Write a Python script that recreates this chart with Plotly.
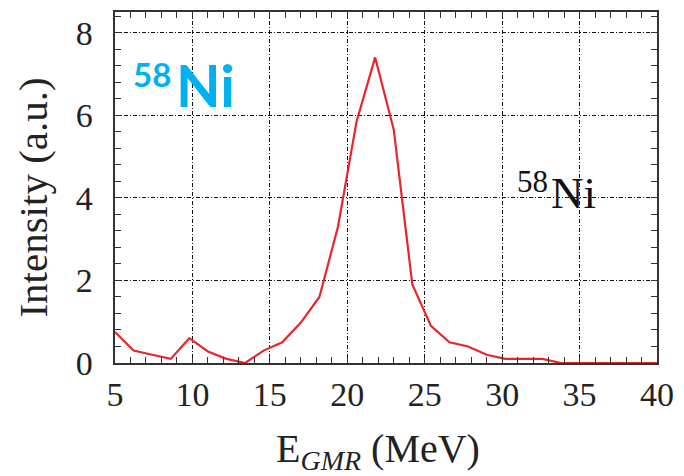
import plotly.graph_objects as go

energy = [5.0, 6.2, 7.4, 8.6, 9.8, 11.0, 12.2, 13.4, 14.6, 15.8, 17.0, 18.2, 19.4,
          20.6, 21.8, 23.0, 24.2, 25.4, 26.6, 27.8, 29.0, 30.2, 31.4, 32.6, 33.8,
          35.0, 36.2, 37.4, 38.6, 40.0]
intensity = [0.75, 0.3, 0.2, 0.1, 0.6, 0.28, 0.1, 0.0, 0.3, 0.5, 0.98, 1.6, 3.3,
             5.85, 7.4, 5.65, 1.9, 0.9, 0.5, 0.4, 0.2, 0.1, 0.1, 0.1, 0.0,
             0.0, 0.0, 0.0, 0.0, 0.0]
x_tick_start, x_tick_step, x_minor_step = 5, 5, 1
y_tick_start, y_tick_step, y_minor_step = 0, 2, 0.4
x_range = [5, 40]
y_range = [0, 8.5]

W, H = 684, 476
L, R, T, B = 115, 21, 10, 112.5
pw, ph = W - L - R, H - T - B

def px(x):
    return (x - L) / pw

def py(y):
    return (H - B - y) / ph

serif = "Liberation Serif"

fig = go.Figure()
fig.add_trace(go.Scatter(x=energy, y=intensity, mode="lines",
                         line=dict(color="#e8262a", width=2.2), showlegend=False))

tickstyle = dict(ticks="inside", ticklen=6, tickwidth=1.4, tickcolor="#333")
axis_common = dict(showline=True, linecolor="#333", linewidth=1.6, mirror="allticks",
                   zeroline=False, showgrid=True, gridcolor="#111", gridwidth=1.3,
                   griddash="4px,2px,1px,2px",
                   tickfont=dict(family=serif, size=34, color="#222"), **tickstyle)

fig.update_xaxes(range=x_range, tickmode="linear", tick0=x_tick_start, dtick=x_tick_step,
                 minor=dict(tick0=x_tick_start, dtick=x_minor_step, showgrid=False, **tickstyle),
                 **axis_common)
fig.update_yaxes(range=y_range, tickmode="linear", tick0=y_tick_start, dtick=y_tick_step,
                 ticksuffix="\u2009\u2009",
                 minor=dict(tick0=y_tick_start, dtick=y_minor_step, showgrid=False, **tickstyle),
                 **axis_common)

ann = []
# axis titles
ann.append(dict(text="E<sub><i>GMR</i></sub> (MeV)", x=px(381), y=py(452), xref="paper", yref="paper",
                xanchor="center", yanchor="middle", showarrow=False,
                font=dict(family=serif, size=40, color="#222")))
ann.append(dict(text="Intensity (a.u.)", x=px(32), y=py(197), xref="paper", yref="paper",
                xanchor="center", yanchor="middle", textangle=-90, showarrow=False,
                font=dict(family=serif, size=41, color="#222")))
# serif label
ann.append(dict(text="58", x=px(519), y=py(181), xref="paper", yref="paper",
                xanchor="left", yanchor="middle", showarrow=False,
                font=dict(family=serif, size=31, color="#111")))
ann.append(dict(text="Ni", x=px(554), y=py(192), xref="paper", yref="paper",
                xanchor="left", yanchor="middle", showarrow=False,
                font=dict(family=serif, size=45, color="#111")))
# blue label
ann.append(dict(text="<b>58</b>", x=px(131), y=py(72), xref="paper", yref="paper",
                xanchor="left", yanchor="middle", showarrow=False,
                font=dict(family="Lato", size=33, color="#00b0f0")))
ann.append(dict(text="<b>Ni</b>", x=px(175), y=py(83), xref="paper", yref="paper",
                xanchor="left", yanchor="middle", showarrow=False,
                font=dict(family="Lato", size=58, color="#00b0f0")))

fig.update_layout(width=W, height=H, margin=dict(l=L, r=R, t=T, b=B),
                  paper_bgcolor="white", plot_bgcolor="white", annotations=ann)

fig.write_html("out.html")
